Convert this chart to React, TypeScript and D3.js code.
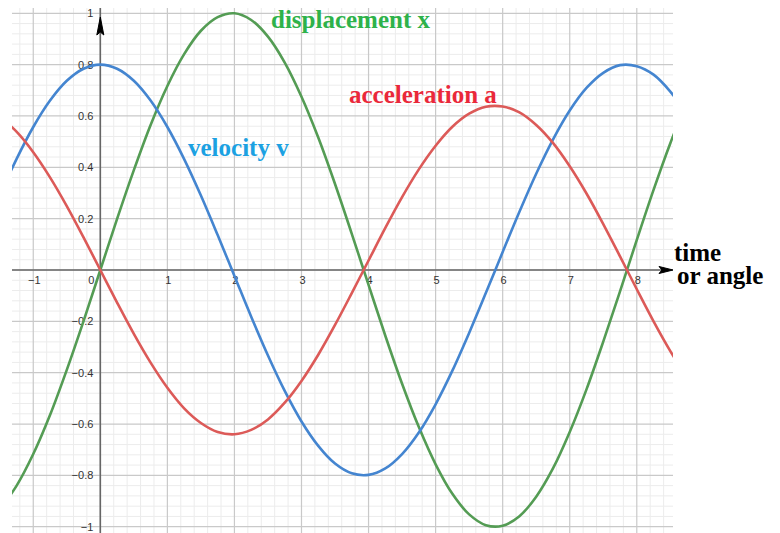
import React, { useEffect, useRef } from 'react';
import * as d3 from 'd3';

// sample times (every quarter unit)
const times = [
  -1.5, -1.25, -1, -0.75, -0.5, -0.25, 0, 0.25, 0.5, 0.75, 1, 1.25, 1.5, 1.75, 2, 2.25, 2.5, 2.75,
  3, 3.25, 3.5, 3.75, 4, 4.25, 4.5, 4.75, 5, 5.25, 5.5, 5.75, 6, 6.25, 6.5, 6.75, 7, 7.25, 7.5, 7.75,
  8, 8.25, 8.5, 8.75,
];

const displacement = [
  -0.932, -0.841, -0.717, -0.565, -0.389, -0.199, 0, 0.199, 0.389, 0.565, 0.717, 0.841, 0.932, 0.985, 1.0, 0.974, 0.909, 0.808,
  0.675, 0.516, 0.335, 0.141, -0.058, -0.256, -0.443, -0.612, -0.757, -0.872, -0.952, -0.994, -0.996, -0.959, -0.883, -0.773,
  -0.631, -0.465, -0.279, -0.083, 0.117, 0.312, 0.494, 0.657,
];

const velocity = [
  0.29, 0.432, 0.557, 0.66, 0.737, 0.784, 0.8, 0.784, 0.737, 0.66, 0.557, 0.432, 0.29, 0.136, -0.023, -0.182, -0.333, -0.471,
  -0.59, -0.685, -0.754, -0.792, -0.798, -0.773, -0.717, -0.633, -0.523, -0.392, -0.245, -0.089, 0.07, 0.227, 0.375, 0.508,
  0.621, 0.709, 0.768, 0.798, 0.794, 0.761, 0.695, 0.603,
];

const acceleration = [
  0.596, 0.539, 0.459, 0.361, 0.249, 0.127, 0, -0.127, -0.249, -0.361, -0.459, -0.539, -0.596, -0.631, -0.64, -0.623, -0.582, -0.517,
  -0.432, -0.33, -0.214, -0.09, 0.037, 0.164, 0.284, 0.392, 0.484, 0.558, 0.609, 0.636, 0.637, 0.614, 0.565, 0.495,
  0.404, 0.298, 0.179, 0.053, -0.075, -0.2, -0.316, -0.42,
];

const xTicks = [-1, 1, 2, 3, 4, 5, 6, 7, 8];
const yTicks = [1, 0.8, 0.6, 0.4, 0.2, -0.2, -0.4, -0.6, -0.8, -1];

const series = [
  { name: 'displacement x', values: displacement, stroke: 'rgb(84,156,84)', text: 'rgb(46,178,74)', lx: 271, ly: 28 },
  { name: 'velocity v', values: velocity, stroke: 'rgb(68,133,208)', text: 'rgb(27,161,226)', lx: 188, ly: 156 },
  { name: 'acceleration a', values: acceleration, stroke: 'rgb(220,90,88)', text: 'rgb(234,40,58)', lx: 349, ly: 103 },
];

function App() {
  const svgRef = useRef<SVGSVGElement | null>(null);

  useEffect(() => {
    const width = 780;
    const height = 533;
    const plot = { left: 12, right: 673, top: 8, bottom: 533 };

    const svg = d3.select(svgRef.current);
    svg.selectAll('*').remove();

    const x = d3.scaleLinear().domain([-1.317, 8.54]).range([plot.left, plot.right]);
    const y = d3.scaleLinear().domain([-1.0245, 1.0206]).range([plot.bottom, plot.top]);

    svg.append('rect').attr('width', width).attr('height', height).attr('fill', '#fff');

    // grid
    const grid = svg.append('g');
    const minorX = d3.range(-6, 43).map(i => i * 0.2).filter(v => Math.abs(v - Math.round(v)) > 1e-6);
    const minorY = d3.range(-25, 26).map(i => i * 0.04).filter(v => Math.abs(v * 5 - Math.round(v * 5)) > 1e-6);
    const majorX = d3.range(-1, 9);
    const majorY = d3.range(-5, 6).map(i => i * 0.2);

    grid.selectAll('.mx').data(minorX).enter().append('line')
      .attr('x1', d => x(d)).attr('x2', d => x(d))
      .attr('y1', plot.top).attr('y2', plot.bottom)
      .attr('stroke', '#ececec').attr('stroke-width', 1);
    grid.selectAll('.my').data(minorY).enter().append('line')
      .attr('x1', plot.left).attr('x2', plot.right)
      .attr('y1', d => y(d)).attr('y2', d => y(d))
      .attr('stroke', '#ececec').attr('stroke-width', 1);
    grid.selectAll('.Mx').data(majorX).enter().append('line')
      .attr('x1', d => x(d)).attr('x2', d => x(d))
      .attr('y1', plot.top).attr('y2', plot.bottom)
      .attr('stroke', '#c9c9c9').attr('stroke-width', 1.2);
    grid.selectAll('.My').data(majorY).enter().append('line')
      .attr('x1', plot.left).attr('x2', plot.right)
      .attr('y1', d => y(d)).attr('y2', d => y(d))
      .attr('stroke', '#c9c9c9').attr('stroke-width', 1.2);

    // axes
    svg.append('line')
      .attr('x1', plot.left).attr('x2', 662)
      .attr('y1', y(0)).attr('y2', y(0))
      .attr('stroke', '#666').attr('stroke-width', 1.6);
    svg.append('line')
      .attr('x1', x(0)).attr('x2', x(0))
      .attr('y1', plot.top).attr('y2', plot.bottom)
      .attr('stroke', '#666').attr('stroke-width', 1.6);

    // arrow heads
    const x0 = x(0);
    const y0 = y(0);
    svg.append('path')
      .attr('d', `M${x0},17 L${x0 + 3.5},35 L${x0},32 L${x0 - 3.5},35 Z`)
      .attr('fill', '#000').attr('stroke', '#000').attr('stroke-width', 1);
    svg.append('path')
      .attr('d', `M673,${y0} L659,${y0 - 3.5} L662,${y0} L659,${y0 + 3.5} Z`)
      .attr('fill', '#000').attr('stroke', '#000').attr('stroke-width', 1);

    // tick labels
    const tickFont = '"Liberation Sans", Arial, sans-serif';
    const fmt = (v: number) => (v < 0 ? '\u2212' : '') + d3.format('~g')(Math.abs(v));
    svg.append('g').selectAll('text').data(xTicks).enter().append('text')
      .attr('x', d => x(d) + 1)
      .attr('y', y0 + 14)
      .attr('text-anchor', 'middle')
      .attr('font-family', tickFont).attr('font-size', 11).attr('fill', '#333')
      .text(d => fmt(d));
    svg.append('text')
      .attr('x', x0 - 9).attr('y', y0 + 14)
      .attr('text-anchor', 'middle')
      .attr('font-family', tickFont).attr('font-size', 11).attr('fill', '#333')
      .text('0');
    svg.append('g').selectAll('text').data(yTicks).enter().append('text')
      .attr('x', x0 - 7)
      .attr('y', d => y(d) + 4)
      .attr('text-anchor', 'end')
      .attr('font-family', tickFont).attr('font-size', 11).attr('fill', '#333')
      .text(d => fmt(d));

    // curves
    svg.append('clipPath').attr('id', 'plotClip')
      .append('rect')
      .attr('x', plot.left).attr('y', plot.top)
      .attr('width', plot.right - plot.left).attr('height', plot.bottom - plot.top);

    const line = d3.line<number>()
      .x((d, i) => x(times[i]))
      .y(d => y(d))
      .curve(d3.curveCatmullRom.alpha(0.5));

    const curves = svg.append('g').attr('clip-path', 'url(#plotClip)');
    series.forEach(s => {
      curves.append('path')
        .attr('d', line(s.values))
        .attr('fill', 'none')
        .attr('stroke', s.stroke)
        .attr('stroke-width', 2.6)
        .attr('stroke-linejoin', 'round');
    });

    // curve labels
    const labelFont = '"Liberation Serif", "Times New Roman", serif';
    series.forEach(s => {
      svg.append('text')
        .attr('x', s.lx).attr('y', s.ly)
        .attr('font-family', labelFont).attr('font-weight', 'bold').attr('font-size', 25)
        .attr('fill', s.text)
        .text(s.name);
    });

    svg.append('text')
      .attr('x', 674).attr('y', 261)
      .attr('font-family', labelFont).attr('font-weight', 'bold').attr('font-size', 25)
      .attr('fill', '#000')
      .text('time');
    svg.append('text')
      .attr('x', 677).attr('y', 284)
      .attr('font-family', labelFont).attr('font-weight', 'bold').attr('font-size', 25)
      .attr('fill', '#000')
      .text('or angle');
  }, []);

  return (
    <svg
      ref={svgRef}
      width={780}
      height={533}
      style={{ position: 'absolute', left: 0, top: 0, display: 'block' }}
    />
  );
}

export default App;
